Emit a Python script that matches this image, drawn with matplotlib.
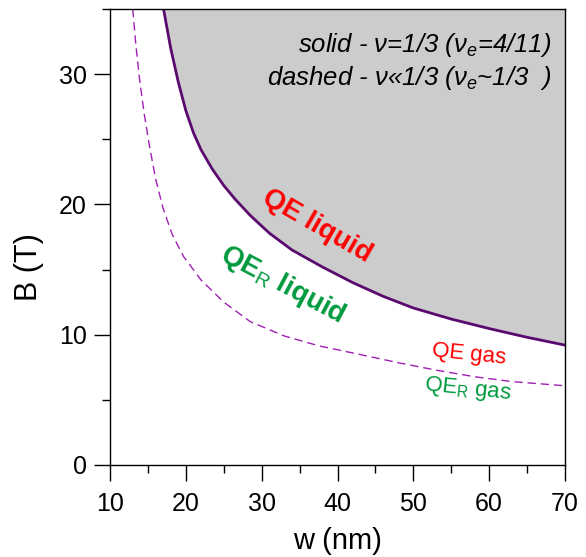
import numpy as np
import matplotlib
matplotlib.use("Agg")
import matplotlib.pyplot as plt
from matplotlib.ticker import MultipleLocator

plt.rcParams['font.family'] = ['Liberation Sans', 'DejaVu Sans']
plt.rcParams['mathtext.fontset'] = 'custom'
plt.rcParams['mathtext.rm'] = 'Liberation Sans'
plt.rcParams['mathtext.it'] = 'Liberation Sans:italic'
plt.rcParams['mathtext.bf'] = 'Liberation Sans:bold'

# solid curve: nu = 1/3 (nu_e = 4/11)
w_solid = [17.06, 18.0, 19.0, 20.0, 21.0, 22.0, 23.5, 25.0, 26.5, 28.5, 31.0,
           34.0, 38.0, 42.0, 46.0, 50.0, 55.0, 60.0, 65.0, 70.0]
B_solid = [35.0, 32.0, 29.4, 27.2, 25.5, 24.2, 22.7, 21.45, 20.4, 19.15, 17.8,
           16.5, 15.2, 14.0, 12.95, 12.05, 11.2, 10.47, 9.8, 9.2]

# dashed curve: nu << 1/3 (nu_e ~ 1/3)
w_dash = [13.0, 13.4, 13.9, 14.5, 15.2, 16.0, 17.0, 18.2, 19.7, 22.0, 25.0,
          28.5, 33.0, 37.5, 42.0, 48.0, 53.0, 58.0, 63.0, 70.0]
B_dash = [35.0, 32.3, 29.6, 27.0, 24.5, 22.0, 19.7, 17.7, 16.0, 14.2, 12.5,
          11.0, 9.9, 9.15, 8.6, 7.85, 7.28, 6.78, 6.4, 6.08]

x_ticks = [10, 20, 30, 40, 50, 60, 70]
y_ticks = [0, 10, 20, 30]

fig = plt.figure(figsize=(5.86, 5.57), dpi=100)
ax = fig.add_axes([0.1877, 0.1652, 0.7765, 0.8187])

# shaded QE liquid region above the solid line
ax.fill_between(w_solid, B_solid, 35, color='#cccccc', linewidth=0)
ax.plot(w_solid, B_solid, color='#5a0a6e', lw=2.0)
ax.plot(w_dash, B_dash, color='#a020b4', lw=1.0, dashes=(6, 3.5))

ax.set_xlim(10, 70)
ax.set_ylim(0, 35)
ax.set_xticks(x_ticks)
ax.set_yticks(y_ticks)
ax.xaxis.set_minor_locator(MultipleLocator(5))
ax.yaxis.set_minor_locator(MultipleLocator(5))
ax.tick_params(which='both', direction='out', width=1.0, labelsize=18)
ax.tick_params(which='major', length=11.5)
ax.tick_params(which='minor', length=5.8)
ax.tick_params(axis='x', pad=8)
ax.tick_params(axis='y', pad=5)
for s in ax.spines.values():
    s.set_linewidth(1.0)

ax.set_xlabel('w (nm)', fontsize=21)
ax.set_ylabel('B (T)', fontsize=22)
ax.xaxis.set_label_coords(0.5, -0.135)
ax.yaxis.set_label_coords(-0.145, 0.435)

ax.text(68.15, 32.2, r'solid - ν=1/3 (ν$_e$=4/11)', ha='right', va='center',
        fontsize=18.5, style='italic')
ax.text(68.15, 29.7, r'dashed - ν«1/3 (ν$_e$~1/3  )', ha='right', va='center',
        fontsize=18.5, style='italic')

ax.text(37.3, 18.3, 'QE liquid', color='red', fontsize=20, fontweight='bold',
        rotation=-30, ha='center', va='center', rotation_mode='anchor')
ax.text(32.7, 13.8, r'QE$_\mathrm{R}$ liquid', color='#009a3e', fontsize=20,
        fontweight='bold', rotation=-28, ha='center', va='center',
        rotation_mode='anchor')
ax.text(57.3, 8.45, 'QE gas', color='red', fontsize=16, rotation=-6,
        ha='center', va='center', rotation_mode='anchor')
ax.text(57.2, 5.75, r'QE$_\mathrm{R}$ gas', color='#009a3e', fontsize=16,
        rotation=-6, ha='center', va='center', rotation_mode='anchor')

fig.savefig('out.png', dpi=100)
